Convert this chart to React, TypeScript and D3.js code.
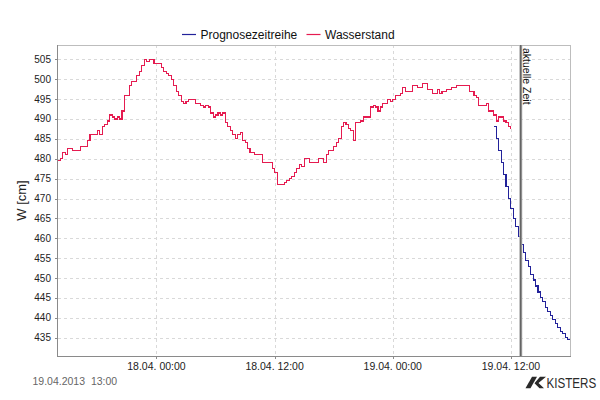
import React from 'react';
import * as d3 from 'd3';

const parseTime = d3.timeParse('%d.%m. %H:%M');

// chart window and the "aktuelle Zeit" marker
const timeStart = '17.04. 14:00';
const timeEnd = '19.04. 18:00';
const currentTime = '19.04. 13:00';
const currentLabel = '19.04.2013  13:00';

// Wasserstand: change points of the measured step series (W in cm)
const wasserstand: [string, number][] = [
  ['17.04. 14:00', 479.5], ['17.04. 14:15', 480], ['17.04. 14:30', 481.5], ['17.04. 14:45', 481],
  ['17.04. 15:00', 482.5], ['17.04. 15:30', 482], ['17.04. 16:15', 483], ['17.04. 17:00', 484.5],
  ['17.04. 17:15', 486], ['17.04. 18:00', 487], ['17.04. 18:15', 486], ['17.04. 18:30', 488],
  ['17.04. 18:45', 488.5], ['17.04. 19:00', 489.5], ['17.04. 19:15', 491], ['17.04. 19:30', 490.5],
  ['17.04. 19:45', 490], ['17.04. 20:00', 490.5], ['17.04. 20:15', 490], ['17.04. 20:30', 492],
  ['17.04. 20:45', 496], ['17.04. 21:15', 498.5], ['17.04. 21:30', 499.5], ['17.04. 22:00', 501],
  ['17.04. 22:15', 502], ['17.04. 22:30', 503.5], ['17.04. 22:45', 505], ['17.04. 23:00', 504.5],
  ['17.04. 23:15', 505], ['17.04. 23:45', 504], ['18.04. 00:30', 503], ['18.04. 00:45', 502],
  ['18.04. 01:00', 501.5], ['18.04. 01:15', 501], ['18.04. 01:30', 500], ['18.04. 01:45', 498.5],
  ['18.04. 02:00', 497], ['18.04. 02:15', 496], ['18.04. 02:30', 494.5], ['18.04. 02:45', 494],
  ['18.04. 03:00', 494.5], ['18.04. 03:15', 495], ['18.04. 04:00', 494], ['18.04. 04:30', 493.5],
  ['18.04. 04:45', 493], ['18.04. 05:00', 493.5], ['18.04. 05:15', 493], ['18.04. 05:30', 491.5],
  ['18.04. 05:45', 490.5], ['18.04. 06:00', 491], ['18.04. 06:15', 491.5], ['18.04. 06:30', 491],
  ['18.04. 06:45', 491.5], ['18.04. 07:00', 489], ['18.04. 07:15', 488], ['18.04. 07:30', 487],
  ['18.04. 07:45', 486], ['18.04. 08:00', 485], ['18.04. 08:15', 486], ['18.04. 08:30', 486.5],
  ['18.04. 08:45', 484.5], ['18.04. 09:00', 484], ['18.04. 09:15', 482.5], ['18.04. 09:30', 481.5],
  ['18.04. 10:00', 481], ['18.04. 10:45', 479], ['18.04. 11:45', 477.5], ['18.04. 12:00', 476.5],
  ['18.04. 12:15', 473.5], ['18.04. 13:00', 474], ['18.04. 13:15', 474.5], ['18.04. 13:30', 475],
  ['18.04. 13:45', 475.5], ['18.04. 14:00', 476.5], ['18.04. 14:15', 477.5], ['18.04. 14:30', 478.5],
  ['18.04. 14:45', 478], ['18.04. 15:00', 480], ['18.04. 15:30', 479], ['18.04. 16:30', 480],
  ['18.04. 17:00', 479], ['18.04. 17:15', 481], ['18.04. 17:30', 482], ['18.04. 18:00', 483],
  ['18.04. 18:15', 484], ['18.04. 18:30', 485], ['18.04. 18:45', 488], ['18.04. 19:00', 489],
  ['18.04. 19:15', 488.5], ['18.04. 19:30', 487.5], ['18.04. 19:45', 487], ['18.04. 20:00', 484.5],
  ['18.04. 20:15', 489], ['18.04. 20:45', 489.5], ['18.04. 21:00', 490.5], ['18.04. 21:45', 493],
  ['18.04. 22:00', 493.5], ['18.04. 22:15', 493], ['18.04. 22:30', 492], ['18.04. 22:45', 493],
  ['18.04. 23:00', 494], ['18.04. 23:30', 495], ['18.04. 23:45', 494.5], ['19.04. 00:00', 495],
  ['19.04. 00:15', 496], ['19.04. 00:45', 496.5], ['19.04. 01:00', 498], ['19.04. 01:15', 497],
  ['19.04. 02:00', 498.5], ['19.04. 02:30', 498], ['19.04. 03:00', 499], ['19.04. 03:30', 497.5],
  ['19.04. 04:00', 496.5], ['19.04. 04:30', 497.5], ['19.04. 04:45', 496.5], ['19.04. 05:00', 497],
  ['19.04. 05:30', 497.5], ['19.04. 06:00', 498], ['19.04. 06:30', 498.5], ['19.04. 07:45', 497],
  ['19.04. 08:15', 496], ['19.04. 08:30', 495.5], ['19.04. 08:45', 493.5], ['19.04. 09:30', 494],
  ['19.04. 09:45', 492], ['19.04. 10:15', 491], ['19.04. 10:30', 489.5], ['19.04. 10:45', 490.5],
  ['19.04. 11:15', 489.5], ['19.04. 11:30', 489], ['19.04. 11:45', 488], ['19.04. 12:00', 487.5],
];

// Prognosezeitreihe: 15-minute forecast values from 19.04. 10:15
const prognoseStart = '19.04. 10:15';
const prognoseStepMinutes = 15;
const prognose = [
  488, 485, 482, 479, 476, 473, 470, 467.5, 465, 463, 460.5, 458.5, 456.5, 454.5, 453, 451,
  449.5, 448, 446.5, 445, 444, 442.5, 441.5, 440.5, 439.5, 438.5, 437.5, 436.5, 436, 435,
  434.5, 434.5,
];

const yTicks = [435, 440, 445, 450, 455, 460, 465, 470, 475, 480, 485, 490, 495, 500, 505];
const xTicks = ['18.04. 00:00', '18.04. 12:00', '19.04. 00:00', '19.04. 12:00'];

const BLUE = '#22229a';
const RED = '#e51b50';
const FONT = '"Liberation Sans", Arial, sans-serif';

const width = 600;
const height = 400;
const margin = { top: 45, right: 30, bottom: 44, left: 58 };

export default function App() {
  const x = d3.scaleTime()
    .domain([parseTime(timeStart)!, parseTime(timeEnd)!])
    .range([margin.left, width - margin.right]);
  const y = d3.scaleLinear()
    .domain([430.4, 508.6])
    .range([height - margin.bottom, margin.top]);

  const stepLine = d3.line<[Date, number]>()
    .x((d) => x(d[0]))
    .y((d) => y(d[1]))
    .curve(d3.curveStepAfter);

  const measured: [Date, number][] = wasserstand.map(([t, v]) => [parseTime(t)!, v]);
  const forecastStart = parseTime(prognoseStart)!;
  const forecast: [Date, number][] = prognose.map((v, i) => [
    d3.timeMinute.offset(forecastStart, i * prognoseStepMinutes), v,
  ]);

  const left = margin.left;
  const right = width - margin.right;
  const top = margin.top;
  const bottom = height - margin.bottom;
  const snap = (v: number) => Math.round(v) + 0.5;
  const nowX = x(parseTime(currentTime)!);

  const legend = [
    { label: 'Prognosezeitreihe', color: BLUE, x: 182 },
    { label: 'Wasserstand', color: RED, x: 306.5 },
  ];

  return (
    <div style={{ position: 'absolute', left: 0, top: 0 }}>
      <svg width={width} height={height} style={{ display: 'block', background: '#fff' }} fontFamily={FONT}>
        {/* grid */}
        <g stroke="#d9d9d9" strokeDasharray="3,3" shapeRendering="crispEdges">
          {yTicks.map((t) => (
            <line key={t} x1={left} x2={right} y1={snap(y(t))} y2={snap(y(t))} />
          ))}
          {xTicks.map((t) => (
            <line key={t} x1={snap(x(parseTime(t)!))} x2={snap(x(parseTime(t)!))} y1={top} y2={bottom} />
          ))}
        </g>

        {/* frame */}
        <g shapeRendering="crispEdges" fill="none">
          <line x1={left} x2={right + 0.5} y1={top + 0.5} y2={top + 0.5} stroke="#bdbdbd" />
          <line x1={right + 0.5} x2={right + 0.5} y1={top} y2={bottom} stroke="#bdbdbd" />
          <line x1={left - 0.5} x2={left - 0.5} y1={top} y2={bottom + 0.5} stroke="#8a8a8a" />
          <line x1={left - 0.5} x2={right + 1} y1={bottom + 0.5} y2={bottom + 0.5} stroke="#8a8a8a" />
        </g>

        {/* y axis */}
        <g fontSize={10} fill="#222" textAnchor="end">
          {yTicks.map((t) => (
            <g key={t}>
              <line x1={left - 3} x2={left} y1={snap(y(t))} y2={snap(y(t))} stroke="#8a8a8a" shapeRendering="crispEdges" />
              <text x={51} y={y(t)} dy="0.35em">{t}</text>
            </g>
          ))}
        </g>
        <text transform={`translate(25.5,${(top + bottom) / 2}) rotate(-90)`} textAnchor="middle" fontSize={13} fill="#222">
          W [cm]
        </text>

        {/* x axis */}
        <g fontSize={10.5} fill="#222" textAnchor="middle">
          {xTicks.map((t) => {
            const px = x(parseTime(t)!);
            return (
              <g key={t}>
                <line x1={snap(px)} x2={snap(px)} y1={bottom} y2={bottom + 3} stroke="#8a8a8a" shapeRendering="crispEdges" />
                <text x={px} y={369.5}>{t}</text>
              </g>
            );
          })}
        </g>

        {/* series */}
        <path d={stepLine(measured) ?? ''} fill="none" stroke={RED} strokeWidth={1.1} shapeRendering="crispEdges" />
        <path d={stepLine(forecast) ?? ''} fill="none" stroke={BLUE} strokeWidth={1.1} shapeRendering="crispEdges" />

        {/* aktuelle Zeit */}
        <line x1={nowX} x2={nowX} y1={top} y2={bottom} stroke="#b0b0b0" strokeWidth={3} />
        <line x1={nowX} x2={nowX} y1={top} y2={bottom} stroke="#555" strokeWidth={1.2} />
        <text transform={`translate(${nowX + 2},48) rotate(90)`} fontSize={10.5} fill="#111">
          aktuelle Zeit
        </text>

        {/* legend */}
        <g fontSize={12} fill="#111">
          {legend.map((d) => (
            <g key={d.label}>
              <line x1={d.x} x2={d.x + 14} y1={34.5} y2={34.5} stroke={d.color} strokeWidth={1.2} />
              <text x={d.x + 18.5} y={38.8}>{d.label}</text>
            </g>
          ))}
        </g>

        {/* footer */}
        <text x={32.5} y={384.5} fontSize={10.5} fill="#666" style={{ whiteSpace: 'pre' }}>
          {currentLabel}
        </text>
        <g fill="#2a2a2a">
          <polygon points="525.5,388.3 530.5,388.3 537,376.7 532,376.7" />
          <polygon points="540,376.7 546,376.7 538.5,383 544,388.3 539.5,388.3 534.5,383.2" />
          <text transform="translate(546.5,388.3) scale(0.75,1)" fontSize={15.5}>KISTERS</text>
        </g>
      </svg>
    </div>
  );
}
